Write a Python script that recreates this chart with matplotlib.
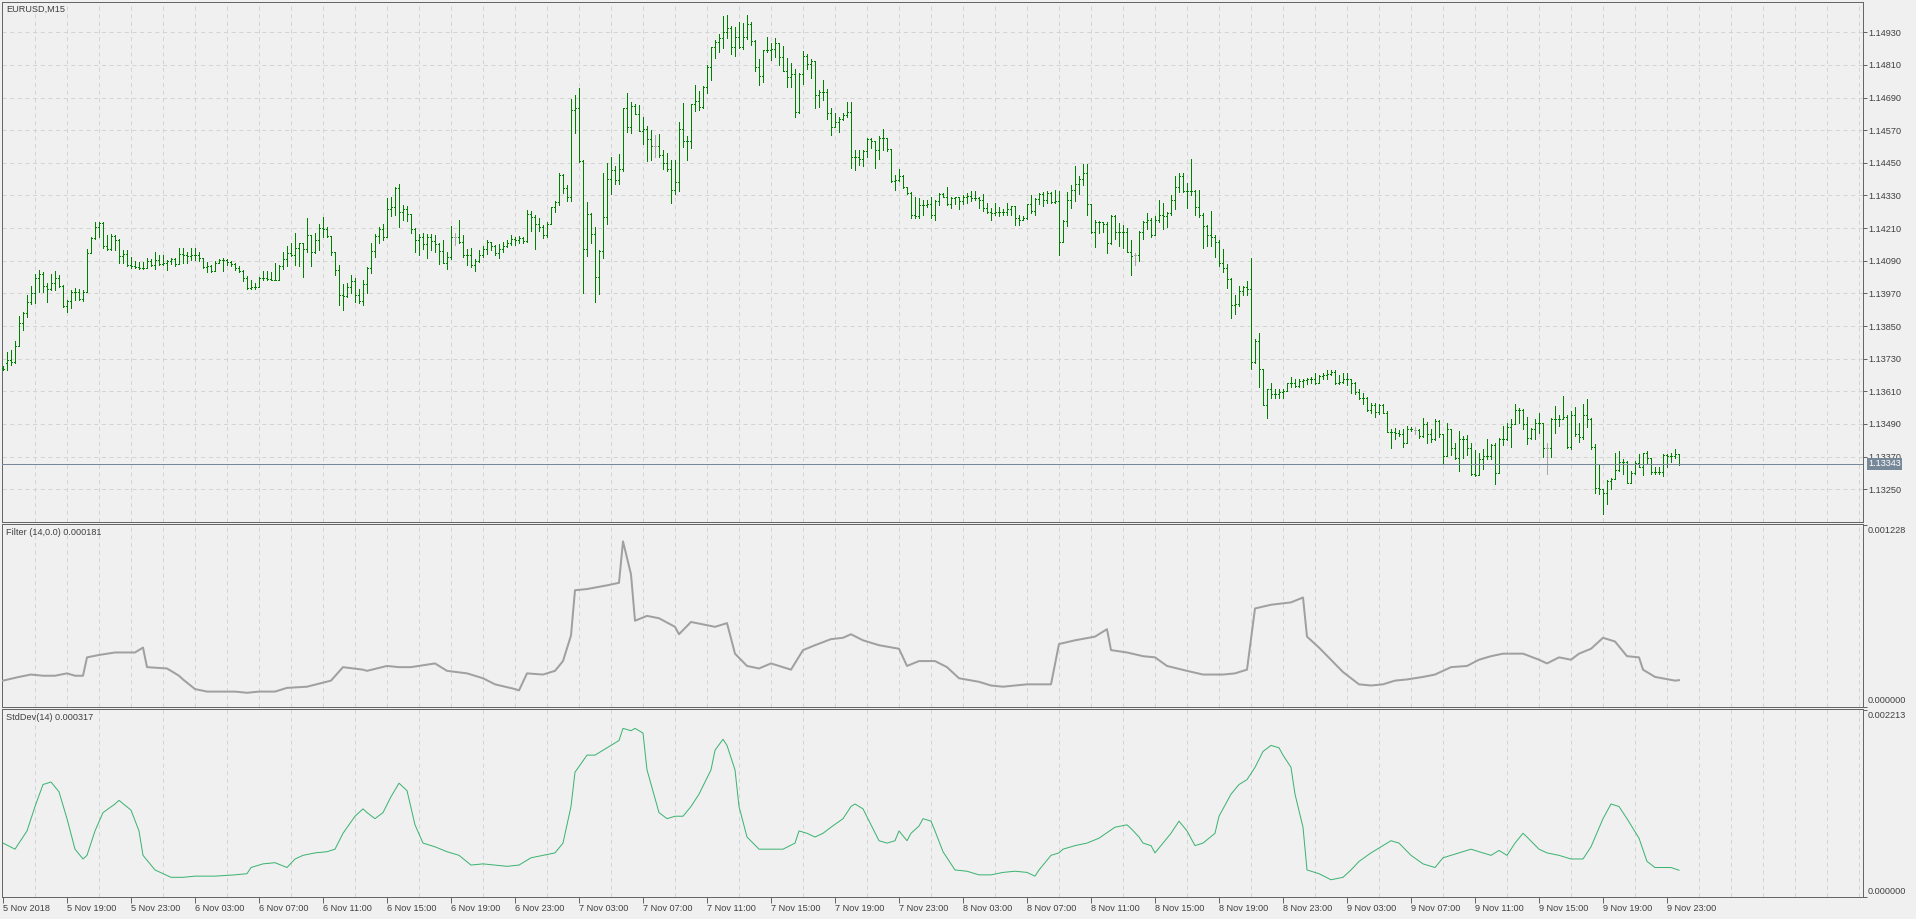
import matplotlib.pyplot as plt
import numpy as np

# EURUSD M15 bars, 5 Nov 2018 15:00 .. 9 Nov 2018 23:45, prices in points (1e-5)
bar_open = [
    113696, 113714, 113724, 113718, 113775, 113863, 113898, 113937, 113971, 114026,
    114042, 113998, 113986, 114008, 114026, 113998, 113922, 113941, 113976, 113975,
    113949, 113977, 114118, 114173, 114214, 114228, 114145, 114135, 114182, 114167,
    114108, 114116, 114075, 114069, 114068, 114064, 114065, 114088, 114075, 114094,
    114079, 114081, 114088, 114096, 114079, 114116, 114112, 114106, 114112, 114113,
    114100, 114067, 114069, 114054, 114081, 114094, 114093, 114084, 114079, 114063,
    114054, 114026, 113990, 113993, 113994, 114026, 114027, 114023, 114020, 114021,
    114069, 114096, 114118, 114112, 114137, 114155, 114133, 114186, 114121, 114167,
    114210, 114208, 114182, 114121, 114057, 113964, 113960, 113992, 114015, 113966,
    113942, 114004, 114065, 114126, 114182, 114206, 114178, 114282, 114286, 114356,
    114270, 114280, 114261, 114206, 114166, 114178, 114151, 114178, 114162, 114151,
    114126, 114080, 114105, 114178, 114178, 114160, 114111, 114110, 114074, 114090,
    114111, 114135, 114160, 114144, 114119, 114135, 114145, 114154, 114170, 114168,
    114172, 114163, 114261, 114252, 114225, 114215, 114184, 114227, 114286, 114307,
    114407, 114359, 114325, 114646, 114653, 114457, 114132, 114261, 114190, 114029,
    114127, 114252, 114390, 114423, 114386, 114429, 114650, 114580, 114659, 114629,
    114568, 114576, 114539, 114512, 114512, 114478, 114450, 114426, 114352, 114380,
    114575, 114531, 114530, 114666, 114678, 114657, 114730, 114803, 114875, 114893,
    114910, 114930, 114945, 114875, 114912, 114875, 114914, 114959, 114899, 114801,
    114770, 114865, 114864, 114868, 114890, 114838, 114788, 114765, 114776, 114636,
    114777, 114844, 114812, 114825, 114700, 114710, 114709, 114632, 114580, 114602,
    114612, 114626, 114636, 114473, 114472, 114465, 114492, 114538, 114531, 114498,
    114543, 114542, 114501, 114384, 114388, 114400, 114363, 114339, 114257, 114256,
    114296, 114295, 114298, 114259, 114310, 114335, 114326, 114298, 114320, 114323,
    114308, 114326, 114329, 114320, 114321, 114314, 114283, 114271, 114265, 114271,
    114268, 114269, 114281, 114291, 114248, 114239, 114248, 114297, 114272, 114318,
    114336, 114315, 114340, 114306, 114309, 114159, 114236, 114313, 114350, 114374,
    114389, 114413, 114297, 114195, 114232, 114231, 114227, 114154, 114254, 114195,
    114196, 114194, 114122, 114110, 114110, 114195, 114232, 114239, 114183, 114239,
    114260, 114254, 114264, 114315, 114362, 114401, 114346, 114345, 114346, 114288,
    114257, 114217, 114183, 114178, 114159, 114083, 114064, 114024, 113926, 113930,
    113979, 113994, 113987, 113718, 113795, 113693, 113559, 113617, 113599, 113600,
    113608, 113612, 113639, 113640, 113629, 113648, 113650, 113654, 113657, 113642,
    113666, 113669, 113672, 113681, 113642, 113644, 113657, 113656, 113642, 113608,
    113587, 113586, 113540, 113559, 113534, 113559, 113532, 113461, 113460, 113456,
    113452, 113419, 113473, 113468, 113468, 113446, 113489, 113452, 113436, 113501,
    113452, 113372, 113473, 113403, 113366, 113436, 113434, 113403, 113305, 113301,
    113363, 113372, 113371, 113412, 113311, 113436, 113435, 113480, 113489, 113541,
    113540, 113489, 113440, 113470, 113495, 113494, 113403, 113403, 113510, 113507,
    113510, 113517, 113407, 113522, 113452, 113443, 113522, 113510, 113407, 113256,
    113252, 113235, 113281, 113287, 113321, 113350, 113349, 113274, 113311, 113346,
    113330, 113382, 113366, 113314, 113313, 113315, 113375, 113372, 113371, 113379,
]
bar_high = [
    113702, 113754, 113763, 113796, 113886, 113900, 113965, 113998, 114042, 114057,
    114047, 114010, 114042, 114053, 114037, 114002, 113947, 113981, 113990, 113986,
    113981, 114133, 114177, 114234, 114231, 114231, 114186, 114188, 114186, 114170,
    114130, 114130, 114103, 114088, 114084, 114084, 114100, 114096, 114122, 114112,
    114112, 114094, 114100, 114100, 114137, 114137, 114124, 114137, 114137, 114124,
    114100, 114084, 114075, 114088, 114096, 114100, 114096, 114088, 114081, 114072,
    114057, 114035, 114020, 114010, 114032, 114051, 114051, 114047, 114081, 114075,
    114121, 114143, 114157, 114192, 114157, 114155, 114247, 114186, 114192, 114226,
    114250, 114216, 114182, 114121, 114075, 114004, 114007, 114037, 114025, 113985,
    114019, 114068, 114157, 114188, 114215, 114225, 114319, 114325, 114362, 114374,
    114294, 114292, 114261, 114209, 114188, 114193, 114190, 114188, 114186, 114154,
    114166, 114123, 114217, 114193, 114239, 114184, 114132, 114138, 114095, 114129,
    114145, 114168, 114160, 114148, 114151, 114160, 114168, 114184, 114178, 114180,
    114178, 114276, 114272, 114258, 114249, 114221, 114233, 114288, 114310, 114414,
    114408, 114368, 114686, 114699, 114727, 114460, 114307, 114264, 114215, 114129,
    114413, 114448, 114472, 114438, 114484, 114653, 114705, 114674, 114666, 114662,
    114617, 114585, 114570, 114552, 114555, 114497, 114487, 114460, 114462, 114602,
    114669, 114547, 114667, 114737, 114715, 114733, 114810, 114877, 114902, 114923,
    114991, 114994, 114954, 114951, 114967, 114963, 114994, 114967, 114902, 114832,
    114865, 114912, 114890, 114908, 114890, 114880, 114837, 114816, 114795, 114779,
    114863, 114849, 114832, 114826, 114718, 114755, 114721, 114651, 114632, 114617,
    114632, 114675, 114675, 114498, 114498, 114498, 114541, 114543, 114531, 114547,
    114575, 114543, 114501, 114404, 114428, 114406, 114363, 114342, 114323, 114320,
    114314, 114314, 114326, 114314, 114339, 114339, 114360, 114323, 114326, 114323,
    114332, 114339, 114345, 114345, 114326, 114335, 114302, 114283, 114302, 114286,
    114281, 114302, 114293, 114291, 114257, 114254, 114297, 114330, 114321, 114340,
    114342, 114346, 114342, 114350, 114346, 114239, 114342, 114367, 114438, 114401,
    114444, 114444, 114297, 114239, 114238, 114232, 114232, 114257, 114260, 114230,
    114220, 114211, 114168, 114119, 114199, 114236, 114264, 114248, 114254, 114315,
    114303, 114269, 114330, 114403, 114411, 114411, 114377, 114465, 114352, 114352,
    114266, 114220, 114272, 114183, 114166, 114132, 114077, 114028, 113963, 113997,
    113999, 114015, 114101, 113803, 113823, 113693, 113620, 113642, 113617, 113617,
    113620, 113642, 113663, 113654, 113654, 113654, 113660, 113663, 113676, 113669,
    113676, 113688, 113688, 113688, 113669, 113679, 113676, 113657, 113644, 113617,
    113605, 113590, 113568, 113568, 113562, 113562, 113538, 113473, 113477, 113468,
    113473, 113483, 113480, 113480, 113470, 113513, 113497, 113470, 113507, 113505,
    113452, 113492, 113473, 113421, 113464, 113446, 113448, 113421, 113393, 113385,
    113397, 113436, 113415, 113421, 113440, 113483, 113495, 113510, 113562, 113550,
    113544, 113517, 113477, 113507, 113529, 113495, 113421, 113513, 113556, 113522,
    113593, 113522, 113538, 113554, 113495, 113562, 113581, 113513, 113415, 113338,
    113252, 113284, 113293, 113382, 113391, 113360, 113354, 113317, 113354, 113379,
    113385, 113391, 113366, 113333, 113330, 113379, 113379, 113385, 113397, 113379,
]
bar_low = [
    113690, 113690, 113708, 113714, 113775, 113837, 113883, 113932, 113934, 113974,
    113974, 113937, 113983, 113983, 113993, 113920, 113900, 113916, 113947, 113947,
    113941, 113974, 114118, 114170, 114179, 114137, 114128, 114130, 114130, 114081,
    114081, 114072, 114063, 114063, 114061, 114061, 114063, 114072, 114059, 114075,
    114075, 114057, 114079, 114072, 114079, 114081, 114081, 114094, 114094, 114091,
    114063, 114050, 114050, 114051, 114081, 114051, 114075, 114069, 114057, 114047,
    114014, 113986, 113986, 113986, 113993, 114020, 114020, 114018, 114018, 114018,
    114059, 114069, 114108, 114075, 114069, 114030, 114124, 114069, 114118, 114128,
    114179, 114179, 114112, 114039, 113928, 113909, 113958, 113970, 113939, 113933,
    113927, 113972, 114046, 114105, 114154, 114166, 114178, 114254, 114258, 114215,
    114239, 114237, 114193, 114123, 114111, 114135, 114099, 114129, 114123, 114077,
    114080, 114058, 114095, 114148, 114154, 114105, 114074, 114068, 114053, 114086,
    114105, 114114, 114129, 114111, 114101, 114123, 114141, 114148, 114148, 114154,
    114156, 114160, 114200, 114135, 114200, 114172, 114178, 114225, 114270, 114294,
    114340, 114310, 114310, 114558, 114454, 113972, 114107, 114156, 113939, 113967,
    114102, 114225, 114337, 114372, 114372, 114421, 114564, 114558, 114629, 114568,
    114519, 114457, 114460, 114472, 114470, 114429, 114421, 114303, 114337, 114345,
    114510, 114459, 114506, 114641, 114645, 114653, 114706, 114755, 114834, 114859,
    114874, 114908, 114849, 114844, 114871, 114870, 114906, 114883, 114786, 114737,
    114746, 114859, 114828, 114841, 114810, 114786, 114730, 114730, 114617, 114632,
    114739, 114794, 114761, 114653, 114657, 114681, 114610, 114553, 114580, 114563,
    114608, 114620, 114430, 114424, 114443, 114440, 114473, 114506, 114430, 114465,
    114498, 114494, 114381, 114351, 114384, 114359, 114335, 114247, 114247, 114247,
    114257, 114286, 114247, 114241, 114296, 114323, 114296, 114283, 114298, 114281,
    114298, 114302, 114308, 114314, 114283, 114274, 114265, 114241, 114257, 114253,
    114257, 114259, 114260, 114223, 114220, 114239, 114244, 114266, 114260, 114297,
    114291, 114303, 114303, 114303, 114113, 114159, 114217, 114285, 114309, 114334,
    114367, 114260, 114193, 114141, 114193, 114195, 114117, 114150, 114171, 114144,
    114138, 114122, 114036, 114073, 114089, 114171, 114205, 114178, 114183, 114232,
    114208, 114215, 114257, 114281, 114342, 114342, 114285, 114330, 114257, 114252,
    114138, 114146, 114144, 114105, 114070, 114048, 113991, 113881, 113893, 113923,
    113966, 113966, 113693, 113715, 113627, 113559, 113513, 113587, 113587, 113587,
    113587, 113612, 113627, 113627, 113627, 113627, 113636, 113642, 113636, 113639,
    113657, 113654, 113669, 113636, 113636, 113642, 113632, 113605, 113599, 113581,
    113562, 113538, 113529, 113517, 113526, 113529, 113461, 113403, 113436, 113446,
    113407, 113419, 113464, 113452, 113440, 113443, 113419, 113424, 113431, 113443,
    113348, 113372, 113375, 113363, 113317, 113366, 113375, 113301, 113299, 113301,
    113326, 113360, 113360, 113268, 113311, 113412, 113431, 113407, 113489, 113495,
    113473, 113415, 113434, 113434, 113456, 113370, 113305, 113370, 113458, 113483,
    113507, 113403, 113397, 113446, 113424, 113434, 113480, 113397, 113235, 113232,
    113158, 113195, 113250, 113287, 113317, 113305, 113274, 113274, 113305, 113330,
    113301, 113348, 113305, 113305, 113305, 113299, 113330, 113350, 113366, 113338,
]
bar_close = [
    113692, 113724, 113718, 113775, 113863, 113898, 113937, 113971, 114026, 114042,
    113998, 113986, 114008, 114026, 113998, 113922, 113941, 113976, 113975, 113949,
    113977, 114118, 114173, 114214, 114228, 114145, 114135, 114182, 114167, 114108,
    114116, 114075, 114069, 114068, 114064, 114065, 114088, 114075, 114094, 114079,
    114081, 114088, 114096, 114079, 114116, 114112, 114106, 114112, 114113, 114100,
    114067, 114069, 114054, 114081, 114094, 114093, 114084, 114079, 114063, 114054,
    114026, 113990, 113993, 113994, 114026, 114027, 114023, 114020, 114021, 114069,
    114096, 114118, 114112, 114137, 114155, 114133, 114186, 114121, 114167, 114210,
    114208, 114182, 114121, 114057, 113965, 113960, 113992, 114015, 113966, 113942,
    114004, 114065, 114126, 114182, 114206, 114178, 114282, 114286, 114356, 114270,
    114280, 114261, 114206, 114166, 114178, 114151, 114178, 114162, 114151, 114126,
    114080, 114105, 114178, 114178, 114160, 114111, 114110, 114074, 114090, 114111,
    114135, 114160, 114144, 114119, 114135, 114145, 114154, 114170, 114168, 114172,
    114163, 114261, 114252, 114225, 114215, 114184, 114227, 114286, 114307, 114407,
    114359, 114325, 114646, 114653, 114457, 114132, 114261, 114190, 114029, 114127,
    114252, 114390, 114423, 114386, 114429, 114650, 114580, 114659, 114629, 114568,
    114576, 114539, 114512, 114512, 114478, 114450, 114426, 114352, 114380, 114575,
    114531, 114530, 114666, 114678, 114657, 114730, 114803, 114875, 114893, 114910,
    114930, 114945, 114875, 114912, 114875, 114914, 114959, 114899, 114801, 114770,
    114865, 114864, 114868, 114890, 114838, 114788, 114765, 114776, 114636, 114777,
    114844, 114812, 114825, 114700, 114710, 114709, 114632, 114580, 114602, 114612,
    114626, 114636, 114473, 114472, 114465, 114492, 114538, 114531, 114498, 114543,
    114542, 114501, 114384, 114388, 114400, 114363, 114339, 114257, 114256, 114296,
    114295, 114298, 114259, 114310, 114335, 114326, 114298, 114320, 114323, 114308,
    114326, 114329, 114320, 114321, 114314, 114283, 114271, 114265, 114271, 114268,
    114269, 114281, 114291, 114248, 114239, 114248, 114297, 114272, 114318, 114336,
    114315, 114340, 114306, 114309, 114159, 114236, 114313, 114350, 114374, 114389,
    114413, 114297, 114195, 114232, 114231, 114227, 114154, 114254, 114195, 114196,
    114194, 114122, 114107, 114110, 114195, 114232, 114239, 114183, 114239, 114260,
    114254, 114264, 114315, 114362, 114401, 114346, 114345, 114346, 114288, 114257,
    114217, 114183, 114178, 114159, 114083, 114064, 114024, 113926, 113930, 113979,
    113994, 113987, 113718, 113795, 113693, 113559, 113617, 113599, 113600, 113608,
    113612, 113639, 113640, 113629, 113648, 113650, 113654, 113657, 113642, 113666,
    113669, 113672, 113681, 113642, 113644, 113657, 113656, 113642, 113608, 113587,
    113586, 113540, 113559, 113534, 113559, 113532, 113461, 113460, 113456, 113452,
    113419, 113473, 113470, 113468, 113446, 113489, 113452, 113436, 113501, 113452,
    113372, 113473, 113403, 113366, 113436, 113434, 113403, 113305, 113301, 113363,
    113372, 113371, 113412, 113311, 113436, 113435, 113480, 113489, 113541, 113540,
    113489, 113440, 113470, 113495, 113494, 113403, 113403, 113510, 113507, 113510,
    113517, 113407, 113522, 113452, 113443, 113522, 113510, 113407, 113256, 113252,
    113235, 113281, 113287, 113321, 113350, 113349, 113274, 113311, 113346, 113330,
    113382, 113366, 113314, 113313, 113315, 113375, 113372, 113371, 113379, 113343,
]

time_labels = ["5 Nov 2018", "5 Nov 19:00", "5 Nov 23:00",
               "6 Nov 03:00", "6 Nov 07:00", "6 Nov 11:00", "6 Nov 15:00", "6 Nov 19:00", "6 Nov 23:00",
               "7 Nov 03:00", "7 Nov 07:00", "7 Nov 11:00", "7 Nov 15:00", "7 Nov 19:00", "7 Nov 23:00",
               "8 Nov 03:00", "8 Nov 07:00", "8 Nov 11:00", "8 Nov 15:00", "8 Nov 19:00", "8 Nov 23:00",
               "9 Nov 03:00", "9 Nov 07:00", "9 Nov 11:00", "9 Nov 15:00", "9 Nov 19:00", "9 Nov 23:00"]
price_ticks = [1.14930, 1.14810, 1.14690, 1.14570, 1.14450, 1.14330, 1.14210, 1.14090,
               1.13970, 1.13850, 1.13730, 1.13610, 1.13490, 1.13370, 1.13250]
last_price = 1.13343

# Filter(14,0.0) line, (bar index, value x1e-6)
filter_bar = [0, 4, 7, 10, 13, 16, 18, 20, 21, 24, 28, 33, 35, 36, 41, 44, 45, 48, 51, 58,
              61, 64, 68, 71, 76, 82, 85, 90, 91, 96, 99, 102, 108, 111, 116, 120, 123, 128, 129, 131,
              135, 138, 140, 142, 143, 146, 151, 154, 155, 157, 158, 161, 164, 168, 169, 172, 178, 181, 183, 186,
              189, 192, 197, 200, 203, 207, 210, 212, 215, 219, 224, 226, 229, 233, 236, 239, 244, 247, 250, 253,
              256, 259, 262, 264, 268, 273, 276, 277, 281, 285, 288, 291, 296, 300, 305, 308, 311, 313, 317, 322,
              325, 326, 329, 332, 335, 339, 342, 345, 348, 351, 355, 358, 362, 366, 369, 372, 375, 380, 384, 386,
              389, 392, 394, 397, 400, 403, 406, 409, 410, 413, 418, 419]
filter_val = [178, 203, 219, 211, 211, 227, 211, 211, 335, 351, 368, 368, 401, 269, 260, 211, 186, 121, 104, 104,
              96, 104, 104, 129, 137, 178, 269, 252, 244, 277, 269, 269, 294, 244, 227, 194, 153, 121, 112, 227,
              219, 244, 310, 483, 788, 796, 821, 838, 1118, 895, 582, 615, 599, 541, 491, 574, 541, 566, 360, 277,
              260, 294, 252, 384, 417, 458, 467, 491, 450, 417, 393, 277, 310, 310, 269, 194, 170, 145, 137, 145,
              153, 153, 153, 425, 450, 475, 525, 384, 368, 343, 335, 277, 244, 219, 219, 227, 252, 665, 690, 706,
              739, 475, 401, 319, 236, 153, 145, 153, 178, 186, 203, 219, 269, 277, 319, 343, 360, 360, 319, 294,
              335, 319, 360, 393, 467, 442, 343, 335, 252, 203, 178, 181]

# StdDev(14) line, (bar index, value x1e-6)
std_bar = [0, 3, 6, 8, 10, 12, 14, 16, 18, 20, 21, 23, 25, 28, 29, 32, 34, 35, 38, 40,
           42, 45, 48, 53, 58, 61, 62, 65, 68, 71, 73, 75, 78, 81, 83, 85, 88, 90, 91, 93,
           95, 97, 99, 101, 103, 105, 108, 111, 114, 117, 120, 123, 126, 129, 132, 135, 138, 140, 142, 143,
           146, 148, 151, 154, 155, 157, 158, 160, 161, 164, 166, 168, 170, 172, 174, 177, 178, 180, 181, 183,
           184, 186, 189, 192, 195, 198, 199, 201, 203, 205, 207, 210, 212, 213, 215, 217, 219, 221, 223, 224,
           226, 227, 229, 230, 232, 233, 235, 238, 241, 244, 247, 250, 253, 256, 258, 259, 262, 264, 265, 268,
           271, 274, 278, 281, 282, 284, 285, 287, 288, 290, 292, 294, 296, 298, 300, 303, 304, 307, 309, 311,
           313, 315, 317, 319, 320, 322, 323, 325, 326, 329, 332, 335, 337, 339, 342, 345, 347, 349, 352, 355,
           358, 360, 362, 365, 367, 369, 372, 374, 376, 378, 380, 381, 384, 386, 389, 392, 395, 397, 400, 402,
           404, 406, 409, 411, 413, 417, 419]
std_val = [638, 566, 782, 1071, 1331, 1361, 1245, 927, 566, 450, 493, 782, 999, 1101, 1144, 1028, 782, 493, 320, 276,
           233, 233, 247, 247, 262, 276, 349, 392, 406, 349, 450, 493, 522, 536, 566, 754, 956, 1043, 999, 927,
           999, 1187, 1347, 1259, 854, 638, 594, 536, 493, 378, 392, 378, 363, 378, 464, 493, 522, 638, 1071, 1477,
           1679, 1679, 1766, 1852, 1996, 1968, 1996, 1940, 1505, 999, 927, 956, 956, 1071, 1217, 1505, 1737, 1867, 1794, 1505,
           1071, 710, 566, 566, 566, 638, 782, 754, 710, 754, 826, 927, 1071, 1101, 1043, 854, 666, 638, 666, 782,
           666, 754, 840, 927, 898, 782, 536, 320, 305, 262, 262, 291, 305, 291, 247, 320, 493, 522, 566, 608,
           638, 696, 826, 854, 811, 710, 638, 608, 522, 638, 754, 898, 782, 608, 638, 754, 956, 1217, 1331, 1389,
           1534, 1722, 1794, 1766, 1679, 1534, 1217, 826, 320, 276, 204, 233, 320, 421, 522, 608, 666, 638, 493, 392,
           349, 464, 493, 536, 566, 536, 493, 551, 493, 638, 754, 710, 566, 522, 493, 450, 450, 594, 927, 1101,
           1071, 927, 696, 421, 349, 349, 317]

W, H = 1916, 919
plt.rcParams['font.family'] = ['Liberation Sans', 'DejaVu Sans']
plt.rcParams['lines.scale_dashes'] = False

bg = '#f0f0f0'
frame = '#666666'
txt = '#404040'
grid_c = '#d4d4d4'
fs = 6.6
px = 0.72  # one pixel in points

fig = plt.figure(figsize=(W / 100, H / 100), dpi=100, facecolor=bg)


def box(x0, y0, x1, y1):
    return [x0 / W, 1 - y1 / H, (x1 - x0) / W, (y1 - y0) / H]


ax1 = fig.add_axes(box(2, 2, 1863, 522))
ax2 = fig.add_axes(box(2, 524, 1863, 707))
ax3 = fig.add_axes(box(2, 709, 1863, 897))

for ax in (ax1, ax2, ax3):
    ax.set_facecolor(bg)
    ax.set_xlim(-0.25, 465)
    for s in ax.spines.values():
        s.set_color(frame)
        s.set_linewidth(px)
    ax.set_xticks(np.arange(8, 465, 8), minor=True)
    ax.grid(which='minor', axis='x', color=grid_c, lw=px, linestyle=(0, (3, 2.5)))
    ax.tick_params(which='minor', length=0)
    ax.yaxis.tick_right()
    ax.tick_params(axis='y', direction='out', length=3, width=px, color=frame,
                   labelcolor=txt, labelsize=fs, pad=1)

ax1.set_xticks([])
ax2.set_xticks([])

# price bars
x = np.arange(len(bar_close))
o = np.array(bar_open) / 1e5
hi = np.array(bar_high) / 1e5
lo = np.array(bar_low) / 1e5
c = np.array(bar_close) / 1e5
cols = np.where(o == c, '#a8a8a8', '#008000')
ax1.vlines(x, lo, hi, colors=cols, lw=px, antialiased=False, zorder=3)
ax1.hlines(o, x - 0.3, x, colors=cols, lw=px, antialiased=False, zorder=3)
ax1.hlines(c, x, x + 0.3, colors=cols, lw=px, antialiased=False, zorder=3)

ax1.set_ylim(1.131296, 1.150414)
ax1.set_yticks(price_ticks)
ax1.set_yticklabels(['%.5f' % p for p in price_ticks])
ax1.grid(which='major', axis='y', color=grid_c, lw=px, linestyle=(0, (3, 2.5)))
ax1.axhline(last_price, color='#778899', lw=px, zorder=4)
ax1.annotate('%.5f' % last_price, xy=(1, last_price), xycoords=('axes fraction', 'data'),
             xytext=(5, 0), textcoords='offset pixels', va='center', ha='left',
             fontsize=fs, color='white', zorder=10, annotation_clip=False,
             bbox=dict(boxstyle='square,pad=0.12', fc='#778899', ec='none'))

ax1.annotate('EURUSD,M15', xy=(0, 1), xycoords='axes fraction', xytext=(4, -3),
             textcoords='offset pixels', va='top', ha='left', fontsize=fs, color=txt)

# Filter panel
ax2.plot(filter_bar, np.array(filter_val) * 1e-6, color='#a0a0a0', lw=2 * px, zorder=3)
ax2.set_ylim(0, 0.001235)
ax2.set_yticks([0, 0.001228])
ax2.set_yticklabels([])
ax2.annotate('Filter (14,0.0) 0.000181', xy=(0, 1), xycoords='axes fraction', xytext=(4, -4),
             textcoords='offset pixels', va='top', ha='left', fontsize=fs, color=txt)
for val, dy, va in ((0.001228, -1, 'top'), (0.0, 2, 'bottom')):
    ax2.annotate('%.6f' % val, xy=(1, val), xycoords=('axes fraction', 'data'),
                 xytext=(5, dy), textcoords='offset pixels', va=va, ha='left',
                 fontsize=fs, color=txt, annotation_clip=False)

# StdDev panel
ax3.plot(std_bar, np.array(std_val) * 1e-6, color='#3cb371', lw=px, zorder=3)
ax3.set_ylim(0, 0.002225)
ax3.set_yticks([0, 0.002213])
ax3.set_yticklabels([])
ax3.annotate('StdDev(14) 0.000317', xy=(0, 1), xycoords='axes fraction', xytext=(4, -4),
             textcoords='offset pixels', va='top', ha='left', fontsize=fs, color=txt)
for val, dy, va in ((0.002213, -1, 'top'), (0.0, 1, 'bottom')):
    ax3.annotate('%.6f' % val, xy=(1, val), xycoords=('axes fraction', 'data'),
                 xytext=(5, dy), textcoords='offset pixels', va=va, ha='left',
                 fontsize=fs, color=txt, annotation_clip=False)

ax3.set_xticks(np.arange(0, 16 * len(time_labels), 16))
ax3.set_xticklabels(time_labels, ha='left')
ax3.tick_params(axis='x', which='major', direction='out', length=4, width=px, color=frame,
                labelcolor=txt, labelsize=fs, pad=1)

fig.savefig('out.png', dpi=100, facecolor=bg)
